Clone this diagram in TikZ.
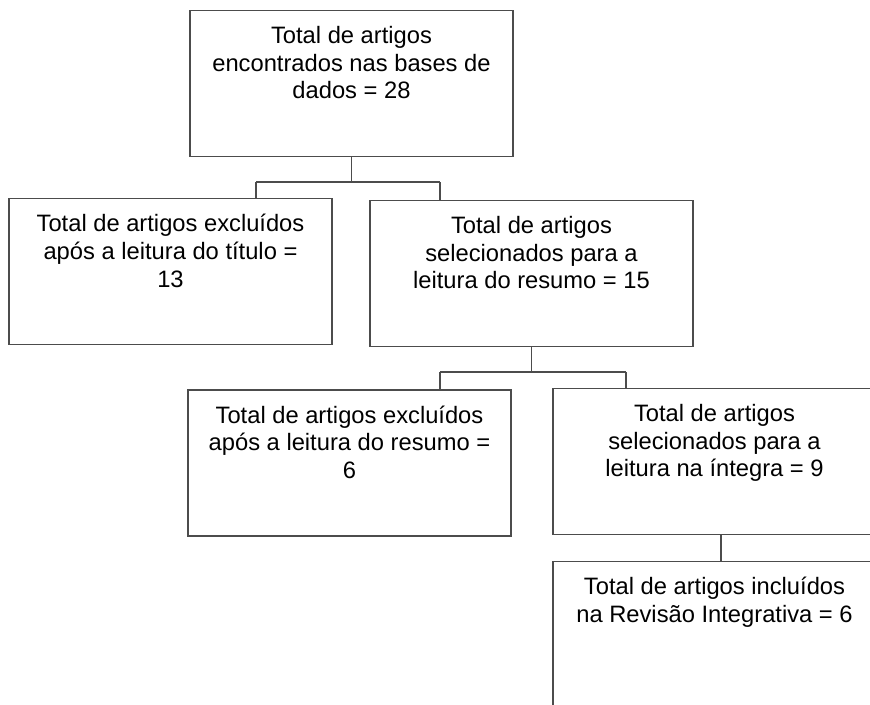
\documentclass[tikz,border=0pt]{standalone}
\usepackage{fontspec}
\setmainfont{Liberation Sans}

\begin{document}
\begin{tikzpicture}[
  box/.style={draw=black!70, line width=0.8pt, minimum width=6.46cm, minimum height=2.92cm, inner sep=0pt},
  boxtext/.style={align=center, inner sep=0pt, anchor=north, yshift=-0.32cm, font=\fontsize{13.5}{15.8}\selectfont},
  link/.style={draw=black!70, line width=0.8pt}
]

\useasboundingbox (0,0) rectangle (17.4,-14.08);
\clip (0,0) rectangle (17.4,-14.08);

\node[box, label={[boxtext]north:{Total de artigos\\encontrados nas bases de\\dados = 28}}] (total) at (7.03,-1.67) {};

\node[box, label={[boxtext]north:{Total de artigos excluídos\\após a leitura do título =\\13}}] (exclTitulo) at (3.41,-5.43) {};
\node[box, label={[boxtext]north:{Total de artigos\\selecionados para a\\leitura do resumo = 15}}] (selResumo) at (10.63,-5.47) {};

\node[box, label={[boxtext]north:{Total de artigos excluídos\\após a leitura do resumo =\\6}}] (exclResumo) at (6.99,-9.26) {};
\node[box, label={[boxtext]north:{Total de artigos\\selecionados para a\\leitura na íntegra = 9}}] (selIntegra) at (14.29,-9.23) {};

\node[box, label={[boxtext]north:{Total de artigos incluídos\\na Revisão Integrativa = 6}}] (incluidos) at (14.29,-12.69) {};

\coordinate (a1) at (5.12,-3.64);
\coordinate (a2) at (8.8,-3.64);
\draw[link] (total.south) -- (total.south |- a1);
\draw[link] (a1) -- (a2);
\draw[link] (a1) -- (a1 |- exclTitulo.north);
\draw[link] (a2) -- (a2 |- selResumo.north);

\coordinate (b1) at (8.8,-7.44);
\coordinate (b2) at (12.52,-7.44);
\draw[link] (selResumo.south) -- (selResumo.south |- b1);
\draw[link] (b1) -- (b2);
\draw[link] (b1) -- (b1 |- exclResumo.north);
\draw[link] (b2) -- (b2 |- selIntegra.north);

\draw[link] ([xshift=1.3mm]selIntegra.south) -- ([xshift=1.3mm]incluidos.north);

\end{tikzpicture}
\end{document}
